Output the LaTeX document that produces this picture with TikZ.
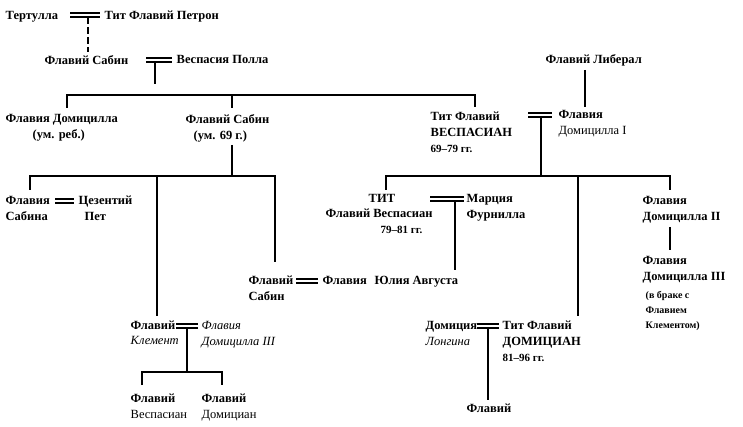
\documentclass[tikz,border=0pt]{standalone}
\usepackage{fontspec}
\setmainfont{Liberation Serif}
\begin{document}
\begin{tikzpicture}[x=1pt,y=-1pt,line width=1.4pt,
  every node/.style={inner sep=0pt,anchor=north west,yshift=10.5pt,align=left,
    font=\fontsize{12.5}{16}\selectfont\bfseries},
  note/.style={font=\fontsize{10}{15}\selectfont\bfseries},
  ital/.style={font=\fontsize{12.5}{16}\selectfont\itshape}]
\useasboundingbox (0,0) rectangle (743,427);
\newcommand\marr[3]{\draw[line width=1.1pt] (#1,#3-2) -- (#2,#3-2) (#1,#3+2) -- (#2,#3+2);}

% first generations
\node(tert) at (5,21) {Тертулла};
\node(petr) at (104,21) {Тит Флавий Петрон};
\marr{70}{100}{15}
\node(sab1) at (44,65) {Флавий Сабин};
\node(polla) at (176,65) {Веспасия Полла};
\marr{146}{172}{60}
\draw[dashed,dash pattern=on 7pt off 3pt] (88,17) -- (88,52);

\coordinate(j1) at (155,95);
\draw (155,62) -- (j1);
\draw (67,108) |- (475,95) -- (475,107);
\draw (232,95) -- (232,108);

\node(dom0) at (5,124) {Флавия Домицилла\\\hspace*{27pt}(ум. реб.)};
\node(sab2) at (185,124) {Флавий Сабин\\\hspace*{8pt}(ум. 69 г.)};

\draw (232,145) -- (232,176);
\draw (30,190) |- (275,176) -- (275,262);
\draw (157,176) -- (157,316);

\node(sabina) at (5,206) {Флавия\\Сабина};
\node(cez) at (78,206) {Цезентий\\\hspace*{6pt}Пет};
\marr{55}{74}{201}
\node(sab3) at (248,286) {Флавий\\Сабин};
\node(fl3) at (322,286) {Флавия};
\marr{296}{318}{281}
\node(julia) at (374,286) {Юлия Августа};

\node(clem) at (130,331) {Флавий\\[-1pt]\mdseries\itshape Клемент};
\node[ital](dom3) at (201,331) {Флавия\\Домицилла III};
\marr{176}{198}{326}
\draw (187,329) -- (187,372);
\draw (142,385) |- (222,372) -- (222,385);
\node(ves2) at (130,404) {Флавий\\\mdseries Веспасиан};
\node(dmn2) at (201,404) {Флавий\\\mdseries Домициан};

% Vespasian branch
\node(vesp) at (430,122) {Тит Флавий\\ВЕСПАСИАН\\\fontsize{11}{16}\selectfont 69--79 гг.};
\node(lib) at (545,64) {Флавий Либерал};
\draw (585,70) -- (585,107);
\node(dom1) at (558,120) {Флавия\\\mdseries Домицилла I};
\marr{528}{552}{115}
\draw (541,117) -- (541,176);
\draw (386,190) |- (670,176) -- (670,190);
\draw (578,176) -- (578,316);

\node(tit) at (368,204) {ТИТ\\[-1pt]\hspace*{-43pt}Флавий Веспасиан\\\hspace*{12pt}\fontsize{11}{16}\selectfont 79--81 гг.};
\node(marc) at (466,204) {Марция\\Фурнилла};
\marr{430}{464}{199}
\draw (455,201) -- (455,270);

\node(dom2) at (642,206) {Флавия\\Домицилла II};
\draw (670,227) -- (670,250);
\node(dom3b) at (642,266) {Флавия\\Домицилла III};
\node[note](brak) at (645,301) {(в браке с\\Флавием\\Клементом)};

\node(longina) at (425,331) {Домиция\\\mdseries\itshape Лонгина};
\node(domit) at (502,331) {Тит Флавий\\ДОМИЦИАН\\\fontsize{11}{16}\selectfont 81--96 гг.};
\marr{477}{499}{326}
\draw (488,329) -- (488,400);
\node(flav) at (466,414) {Флавий};
\end{tikzpicture}
\end{document}
